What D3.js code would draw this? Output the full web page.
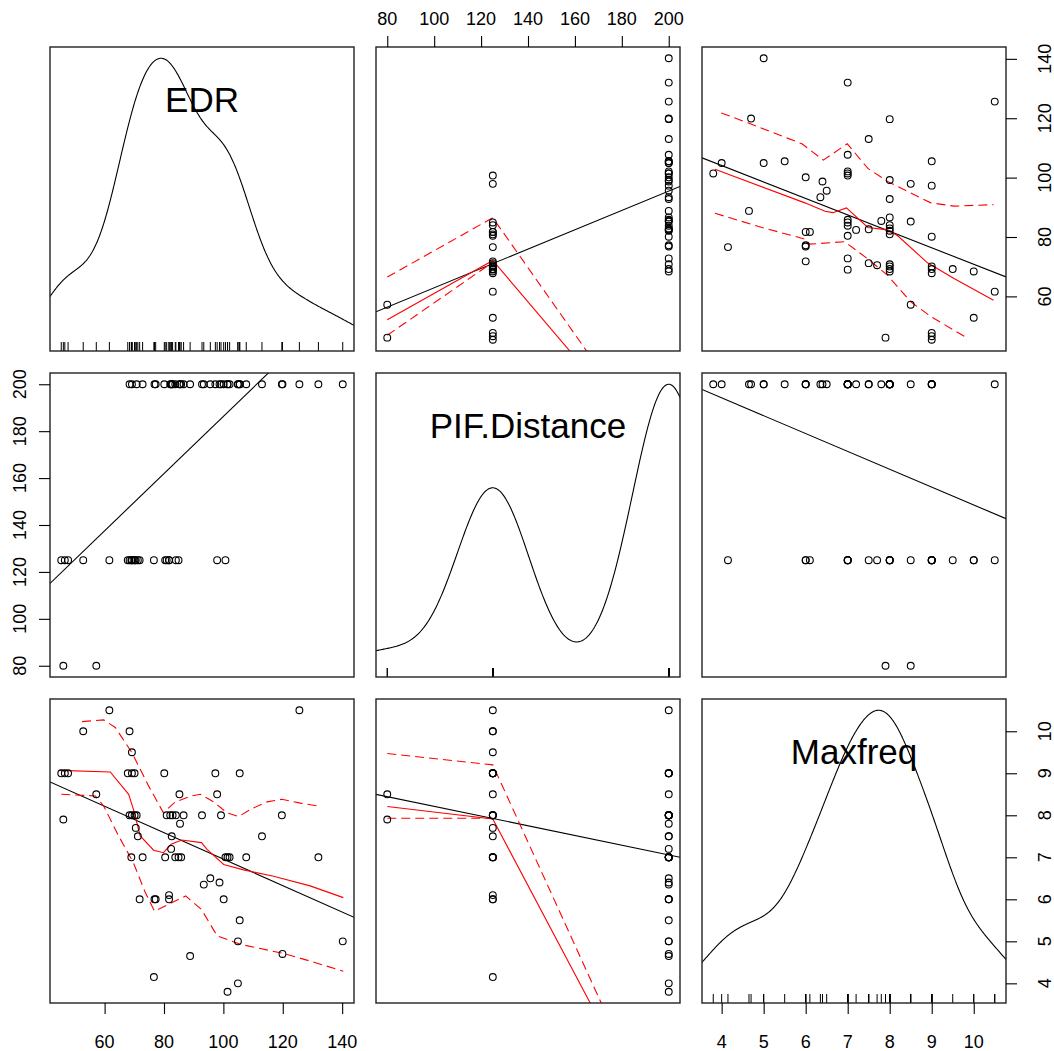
<!DOCTYPE html>
<html lang="en">
<head>
<meta charset="UTF-8">
<title>Scatterplot matrix: EDR, PIF.Distance, Maxfreq</title>
<script src="https://d3js.org/d3.v7.min.js"></script>
<style>
  body { margin: 0; background: #fff; }
  svg { display: block; font-family: "Liberation Sans", Arial, sans-serif; }
</style>
</head>
<body>
<svg id="chart" width="1054" height="1051"></svg>
<script>
// variable names shown on the diagonal
const varNames = ["EDR", "PIF.Distance", "Maxfreq"];

const edr = [61.6, 125.6, 52.8, 68.4, 69.2, 45.4, 46.6, 47.7, 67.8, 69.2, 70.1, 80.1, 97.3, 105.5,
  57.2, 85.2, 97.9, 68.4, 69.2, 70.1, 70.8, 80.9, 82.1, 82.9, 84.0, 86.6, 92.8, 99.2, 119.7,
  46.1, 85.4, 70.5, 71.2, 82.6, 113.0, 82.4, 69.0, 72.8, 80.4, 83.8, 84.9, 85.8, 100.7, 101.4,
  102.1, 107.7, 132.0, 95.6, 98.7, 93.4, 71.8, 76.8, 77.2, 81.7, 100.1, 81.7, 105.5, 104.9,
  140.2, 88.8, 119.9, 104.9, 76.6, 101.4];
const pif = [125, 200, 125, 125, 125, 125, 125, 125, 125, 200, 125, 200, 200, 200,
  80, 200, 125, 200, 125, 125, 200, 125, 200, 200, 125, 200, 200, 200, 200,
  80, 200, 125, 125, 200, 200, 200, 125, 200, 125, 200, 125, 200, 125, 200,
  200, 200, 200, 200, 200, 200, 125, 200, 200, 125, 200, 125, 200, 200,
  200, 200, 200, 200, 125, 200];
const maxfreq = [10.5, 10.5, 10.0, 10.0, 9.5, 9.0, 9.0, 9.0, 9.0, 9.0, 9.0, 9.0, 9.0, 9.0,
  8.5, 8.5, 8.5, 8.0, 8.0, 8.0, 8.0, 8.0, 8.0, 8.0, 8.0, 8.0, 8.0, 8.0, 8.0,
  7.9, 7.8, 7.7, 7.5, 7.5, 7.5, 7.2, 7.0, 7.0, 7.0, 7.0, 7.0, 7.0, 7.0, 7.0,
  7.0, 7.0, 7.0, 6.5, 6.4, 6.35, 6.0, 6.0, 6.0, 6.0, 6.0, 6.1, 5.5, 5.0,
  5.0, 4.65, 4.7, 4.0, 4.15, 3.8];

// tick labels
const edrTicks = [60, 80, 100, 120, 140];
const pifTicks = [80, 100, 120, 140, 160, 180, 200];
const maxfreqTicks = [4, 5, 6, 7, 8, 9, 10];

// red smoother (fit) and spread (upper/lower) curves as [x, y]
const edrOnPifFit = [[80, 52.1], [125, 72.1], [200, 2.4]];
const edrOnPifUpper = [[80, 66.5], [125, 86.5], [200, 2.3]];
const edrOnPifLower = [[80, 46.9], [125, 71.5]];

const edrOnMaxfreqFit = [[3.84, 102.8], [5.98, 91.5], [6.46, 88.7], [6.65, 88.2], [6.97, 89.8], [7.48, 83.2],
  [7.95, 82.4], [8.19, 80.4], [8.9, 71.3], [9.53, 66.0], [10.47, 58.7]];
const edrOnMaxfreqUpper = [[3.99, 121.8], [4.65, 118.3], [5.91, 111.4], [6.42, 105.9], [6.99, 111.4], [7.48, 103.1],
  [7.95, 98.7], [8.5, 94.8], [8.98, 91.5], [9.53, 90.4], [10.47, 90.9]];
const edrOnMaxfreqLower = [[3.84, 88.0], [4.96, 83.2], [5.98, 79.3], [6.1, 77.6], [6.93, 78.4], [7.48, 72.6],
  [7.95, 67.1], [8.5, 58.2], [8.98, 53.2], [9.84, 46.0]];

const maxfreqOnEdrFit = [[44.8, 9.07], [61.9, 9.03], [68.1, 8.5], [69.7, 8.14], [72.0, 7.51], [76.5, 7.17],
  [79.8, 7.11], [82.4, 7.31], [86.0, 7.41], [92.6, 7.35], [94.5, 7.19], [100.1, 6.83], [106.8, 6.70],
  [116.9, 6.55], [129.2, 6.32], [140.4, 6.04]];
const maxfreqOnEdrUpper = [[52.4, 10.23], [59.7, 10.27], [63.6, 10.09], [69.2, 9.49], [74.8, 8.70], [79.8, 8.06],
  [83.8, 8.32], [89.3, 8.46], [92.3, 8.5], [96.7, 8.32], [101.2, 8.06], [105.1, 7.97], [109.1, 8.14],
  [114.7, 8.32], [119.7, 8.38], [125.9, 8.29], [132.0, 8.22]];
const maxfreqOnEdrLower = [[45.4, 8.5], [56.9, 8.46], [59.7, 8.22], [64.7, 7.51], [69.7, 6.87], [73.7, 6.16],
  [76.8, 5.72], [80.4, 5.84], [87.3, 6.08], [92.6, 5.76], [97.9, 5.13], [105.7, 4.93], [120.3, 4.71],
  [129.2, 4.53], [140.4, 4.29]];

const maxfreqOnPifFit = [[80, 8.21], [125, 7.91], [200, 0.0]];
const maxfreqOnPifUpper = [[80, 9.47], [125, 9.2], [200, 0.0]];
const maxfreqOnPifLower = [[80, 7.93], [125, 7.93]];

const vars = [edr, pif, maxfreq];
const ticks = [edrTicks, pifTicks, maxfreqTicks];
// smoothers keyed by "row,col" (y variable, x variable)
const smoothers = {
  "0,1": [edrOnPifFit, edrOnPifUpper, edrOnPifLower],
  "0,2": [edrOnMaxfreqFit, edrOnMaxfreqUpper, edrOnMaxfreqLower],
  "2,0": [maxfreqOnEdrFit, maxfreqOnEdrUpper, maxfreqOnEdrLower],
  "2,1": [maxfreqOnPifFit, maxfreqOnPifUpper, maxfreqOnPifLower]
};

const panelSize = 304, gap = 22, marginLeft = 50, marginTop = 47;
const tickFont = 18;
const svg = d3.select("#chart");
svg.append("rect").attr("width", 1054).attr("height", 1051).attr("fill", "#fff");

// R style: data range padded by 4% on each side
function paddedDomain(v) {
  const [lo, hi] = d3.extent(v), pad = (hi - lo) * 0.04;
  return [lo - pad, hi + pad];
}
const xScales = vars.map(v => d3.scaleLinear().domain(paddedDomain(v)).range([0, panelSize]));
const yScales = vars.map(v => d3.scaleLinear().domain(paddedDomain(v)).range([panelSize, 0]));

// gaussian kernel density, bandwidth like R's bw.nrd0
function kde(v) {
  const sorted = v.slice().sort(d3.ascending);
  const n = v.length;
  const iqr = d3.quantile(sorted, 0.75) - d3.quantile(sorted, 0.25);
  const bw = 0.9 * Math.min(d3.deviation(v), iqr / 1.34) * Math.pow(n, -0.2);
  const lo = sorted[0] - 3 * bw, hi = sorted[n - 1] + 3 * bw;
  return d3.range(512).map(i => {
    const x = lo + (hi - lo) * i / 511;
    const y = d3.sum(v, d => Math.exp(-0.5 * ((x - d) / bw) ** 2)) / (n * bw * Math.sqrt(2 * Math.PI));
    return [x, y];
  });
}

function ols(x, y) {
  const mx = d3.mean(x), my = d3.mean(y);
  let sxy = 0, sxx = 0;
  x.forEach((d, i) => { sxy += (d - mx) * (y[i] - my); sxx += (d - mx) ** 2; });
  const b = sxy / sxx;
  return { a: my - b * mx, b };
}

const line = d3.line();

for (let r = 0; r < 3; r++) {
  for (let c = 0; c < 3; c++) {
    const x = xScales[c], y = yScales[r];
    const g = svg.append("g")
      .attr("transform", `translate(${marginLeft + c * (panelSize + gap)},${marginTop + r * (panelSize + gap)})`);
    const clipId = `clip-${r}-${c}`;
    g.append("clipPath").attr("id", clipId)
      .append("rect").attr("width", panelSize).attr("height", panelSize);
    const plot = g.append("g").attr("clip-path", `url(#${clipId})`);

    if (r === c) {
      const v = vars[c];
      const dens = kde(v);
      const [vmin, vmax] = d3.extent(v);
      const [dmin, dmax] = d3.extent(dens, d => d[1]);
      plot.append("path")
        .attr("d", line(dens.map(d => [x(d[0]), y(vmin + (d[1] - dmin) * (vmax - vmin) / (dmax - dmin))])))
        .attr("fill", "none").attr("stroke", "#000").attr("stroke-width", 1.1);
      // rug
      plot.selectAll(".rug").data(v).enter().append("line")
        .attr("x1", d => x(d)).attr("x2", d => x(d))
        .attr("y1", panelSize).attr("y2", panelSize - 9)
        .attr("stroke", "#000").attr("stroke-width", 1);
      g.append("text")
        .attr("x", panelSize / 2).attr("y", 64.5)
        .attr("text-anchor", "middle")
        .attr("font-size", 35)
        .text(varNames[c]);
    } else {
      const xs = vars[c], ys = vars[r];
      // least squares line
      const fit = ols(xs, ys);
      const [x0, x1] = x.domain();
      plot.append("line")
        .attr("x1", x(x0)).attr("y1", y(fit.a + fit.b * x0))
        .attr("x2", x(x1)).attr("y2", y(fit.a + fit.b * x1))
        .attr("stroke", "#000").attr("stroke-width", 1.1);

      const sm = smoothers[`${r},${c}`];
      if (sm) {
        sm.forEach((pts, k) => {
          plot.append("path")
            .attr("d", line(pts.map(p => [x(p[0]), y(p[1])])))
            .attr("fill", "none").attr("stroke", "#ff0000").attr("stroke-width", 1.1)
            .attr("stroke-dasharray", k === 0 ? null : "9,5");
        });
      }

      plot.selectAll("circle").data(xs).enter().append("circle")
        .attr("cx", d => x(d))
        .attr("cy", (d, i) => y(ys[i]))
        .attr("r", 3.4)
        .attr("fill", "none").attr("stroke", "#000").attr("stroke-width", 1.1);
    }

    // panel box
    g.append("rect").attr("width", panelSize).attr("height", panelSize)
      .attr("fill", "none").attr("stroke", "#222").attr("stroke-width", 1.4);

    // outer axes, alternating like R's pairs()
    const tickStyle = sel => {
      sel.select(".domain").remove();
      sel.selectAll(".tick line").attr("stroke", "#000").attr("stroke-width", 1.1);
      sel.selectAll(".tick text").remove();
    };
    const addLabels = (ax, values, place) => {
      ax.selectAll(".lab").data(values).enter().append("text")
        .attr("transform", place)
        .attr("text-anchor", "middle").attr("dominant-baseline", "central")
        .attr("font-size", tickFont).attr("fill", "#000").text(d => d);
    };
    if (r === 2 && c !== 1) {
      const ax = g.append("g").attr("transform", `translate(0,${panelSize})`)
        .call(d3.axisBottom(x).tickValues(ticks[c]).tickSize(11)).call(tickStyle);
      addLabels(ax, ticks[c], d => `translate(${x(d)},38.5)`);
    }
    if (r === 0 && c === 1) {
      const ax = g.append("g")
        .call(d3.axisTop(x).tickValues(ticks[c]).tickSize(11)).call(tickStyle);
      addLabels(ax, ticks[c], d => `translate(${x(d)},-28.5)`);
    }
    if (c === 2 && r !== 1) {
      const ax = g.append("g").attr("transform", `translate(${panelSize},0)`)
        .call(d3.axisRight(y).tickValues(ticks[r]).tickSize(11)).call(tickStyle);
      addLabels(ax, ticks[r], d => `translate(38.5,${y(d)}) rotate(-90)`);
    }
    if (c === 0 && r === 1) {
      const ax = g.append("g")
        .call(d3.axisLeft(y).tickValues(ticks[r]).tickSize(11)).call(tickStyle);
      addLabels(ax, ticks[r], d => `translate(-30,${y(d)}) rotate(-90)`);
    }
  }
}
</script>
</body>
</html>
